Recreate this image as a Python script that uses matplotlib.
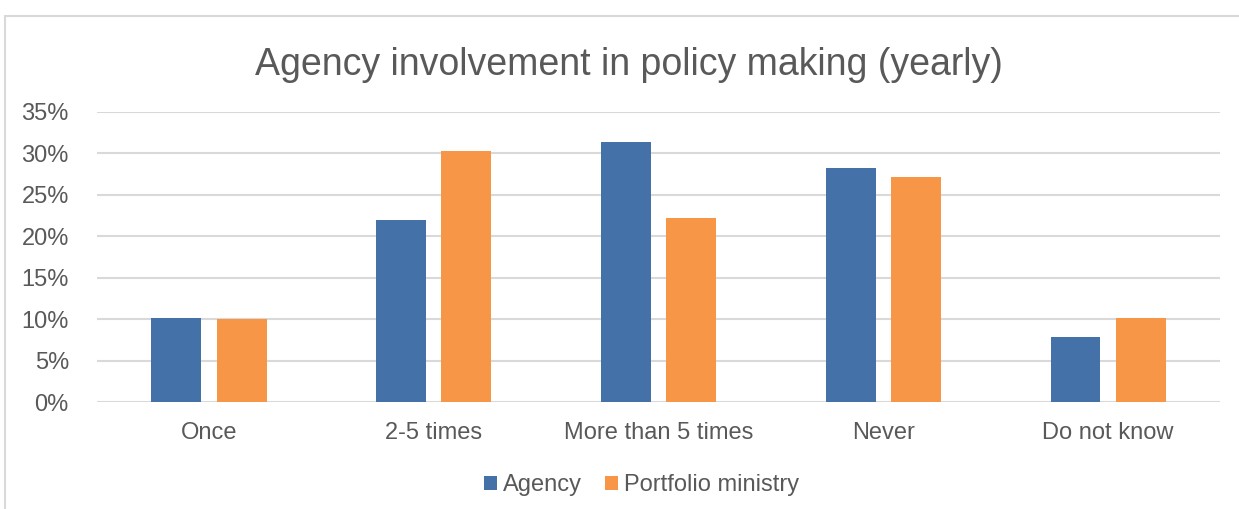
import matplotlib.pyplot as plt
import numpy as np
from matplotlib.patches import Rectangle
from matplotlib.ticker import PercentFormatter

# Survey shares (%) by frequency of involvement
categories = ['Once', '2-5 times', 'More than 5 times', 'Never', 'Do not know']
agency = [10.2, 22.0, 31.4, 28.3, 7.9]
portfolio_ministry = [10.0, 30.3, 22.2, 27.2, 10.1]

plt.rcParams['font.family'] = ['Liberation Sans', 'DejaVu Sans']
text_color = '#595959'

fig = plt.figure(figsize=(12.39, 5.09), dpi=100)
ax = fig.add_axes([0.078, 0.210, 0.907, 0.570])

# Light frame around the whole chart
fig.patches.append(Rectangle((0.004, -0.02), 1.05, 0.989, transform=fig.transFigure,
                             fill=False, edgecolor='#d9d9d9', linewidth=1.5))

x = np.arange(len(categories))
width = 0.222
offset = 0.145
ax.bar(x - offset, agency, width, color='#4472a8', label='Agency', zorder=3)
ax.bar(x + offset, portfolio_ministry, width, color='#f79646', label='Portfolio ministry', zorder=3)

ax.set_xlim(-0.5, len(categories) - 0.5)
ax.set_ylim(0, 35)
ax.set_yticks(np.arange(0, 36, 5))
ax.yaxis.set_major_formatter(PercentFormatter(decimals=0))
ax.set_xticks(x)
ax.set_xticklabels(categories)

ax.grid(axis='y', color='#d9d9d9', linewidth=1.5, zorder=0)
for side in ['top', 'right', 'left', 'bottom']:
    ax.spines[side].set_visible(False)
ax.tick_params(axis='both', length=0, labelsize=17, colors=text_color)
ax.tick_params(axis='y', pad=20)
ax.tick_params(axis='x', pad=14)

fig.suptitle('Agency involvement in policy making (yearly)', x=0.508, y=0.908,
             fontsize=27, color=text_color)

ax.legend(loc='upper center', bbox_to_anchor=(0.485, -0.175), ncol=2, frameon=False,
          fontsize=17, labelcolor=text_color, handlelength=0.55, handleheight=0.55,
          handletextpad=0.25, columnspacing=1.0)

fig.savefig('out.png', dpi=100, facecolor='white')
